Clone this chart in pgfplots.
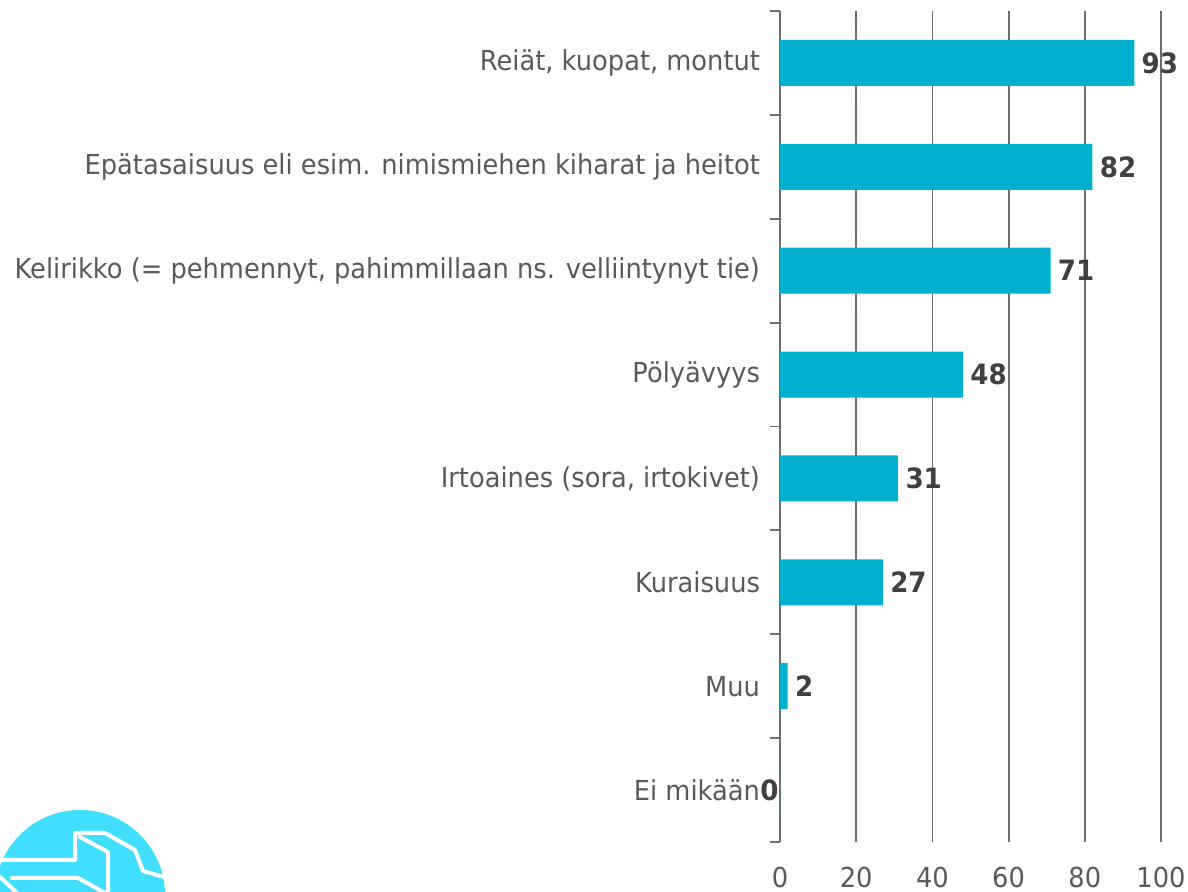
\documentclass[border=0pt]{standalone}
\usepackage{pgfplots}
\pgfplotsset{compat=1.18}
\usepackage{fontspec}
\setmainfont{DejaVu Sans}[FakeStretch=0.935]
\definecolor{barc}{RGB}{0,176,204}
\definecolor{labc}{RGB}{89,89,89}
\definecolor{valc}{RGB}{64,64,64}
\definecolor{gridc}{RGB}{110,110,110}
\definecolor{logoc}{RGB}{65,223,255}
\begin{document}
\begin{tikzpicture}
\useasboundingbox (0,0) rectangle (594pt,446pt);
\begin{axis}[
  at={(390pt,25pt)}, anchor=south west,
  scale only axis, width=190.5pt, height=415.5pt,
  xmin=0, xmax=100, ymin=0.5, ymax=8.5, y dir=reverse,
  xbar, bar width=23pt, bar shift=0pt,
  xtick={0,20,...,100}, xmajorgrids,
  grid style={gridc, line width=0.9pt},
  ytick={1,...,8},
  yticklabels={{Reiät, kuopat, montut},{Epätasaisuus eli esim. nimismiehen kiharat ja heitot},{Kelirikko (= pehmennyt, pahimmillaan ns. velliintynyt tie)},{Pölyävyys},{Irtoaines (sora, irtokivet)},{Kuraisuus},{Muu},{Ei mikään}},
  minor ytick={0.5,1.5,...,8.5},
  major tick length=0pt, minor tick length=5pt,
  tick align=outside, ytick pos=left, xtick pos=bottom,
  separate axis lines,
  x axis line style={draw=none},
  y axis line style={draw=gridc, line width=0.9pt},
  minor tick style={draw=gridc, line width=0.9pt},
  /pgf/number format/assume math mode=true,
  tick label style={font=\fontsize{13.75}{16}\selectfont, text=labc},
  xticklabel style={yshift=-9pt},
  yticklabel style={xshift=-6.5pt},
  nodes near coords,
  nodes near coords style={font=\fontsize{14}{16}\selectfont\bfseries, text=valc, anchor=west, inner sep=0pt, xshift=3.5pt},
]
\addplot[fill=barc, draw=none] coordinates {(93,1) (82,2) (71,3) (48,4) (31,5) (27,6) (2,7)};
\addplot[fill=barc, draw=none, nodes near coords style={anchor=east, xshift=-4pt}] coordinates {(0,8)};
\end{axis}
\fill[logoc] (40pt,-1.5pt) circle (42.5pt);
\draw[white, line width=2pt, line join=round, line cap=round] (0pt,16pt) -- (37.5pt,16pt) -- (37.5pt,29.5pt) -- (52.5pt,29.5pt) -- (67.5pt,21pt) -- (71.5pt,10.5pt) -- (82pt,7.5pt);
\draw[white, line width=2pt, line join=round, line cap=round] (40pt,27.5pt) -- (54pt,20pt) -- (54pt,-1pt);
\draw[white, line width=2pt, line join=round, line cap=round] (6pt,7pt) -- (39pt,7pt) -- (53.5pt,-1pt);
\draw[white, line width=2pt, line join=round, line cap=round] (0pt,7.5pt) -- (9pt,-1pt);
\end{tikzpicture}
\end{document}
